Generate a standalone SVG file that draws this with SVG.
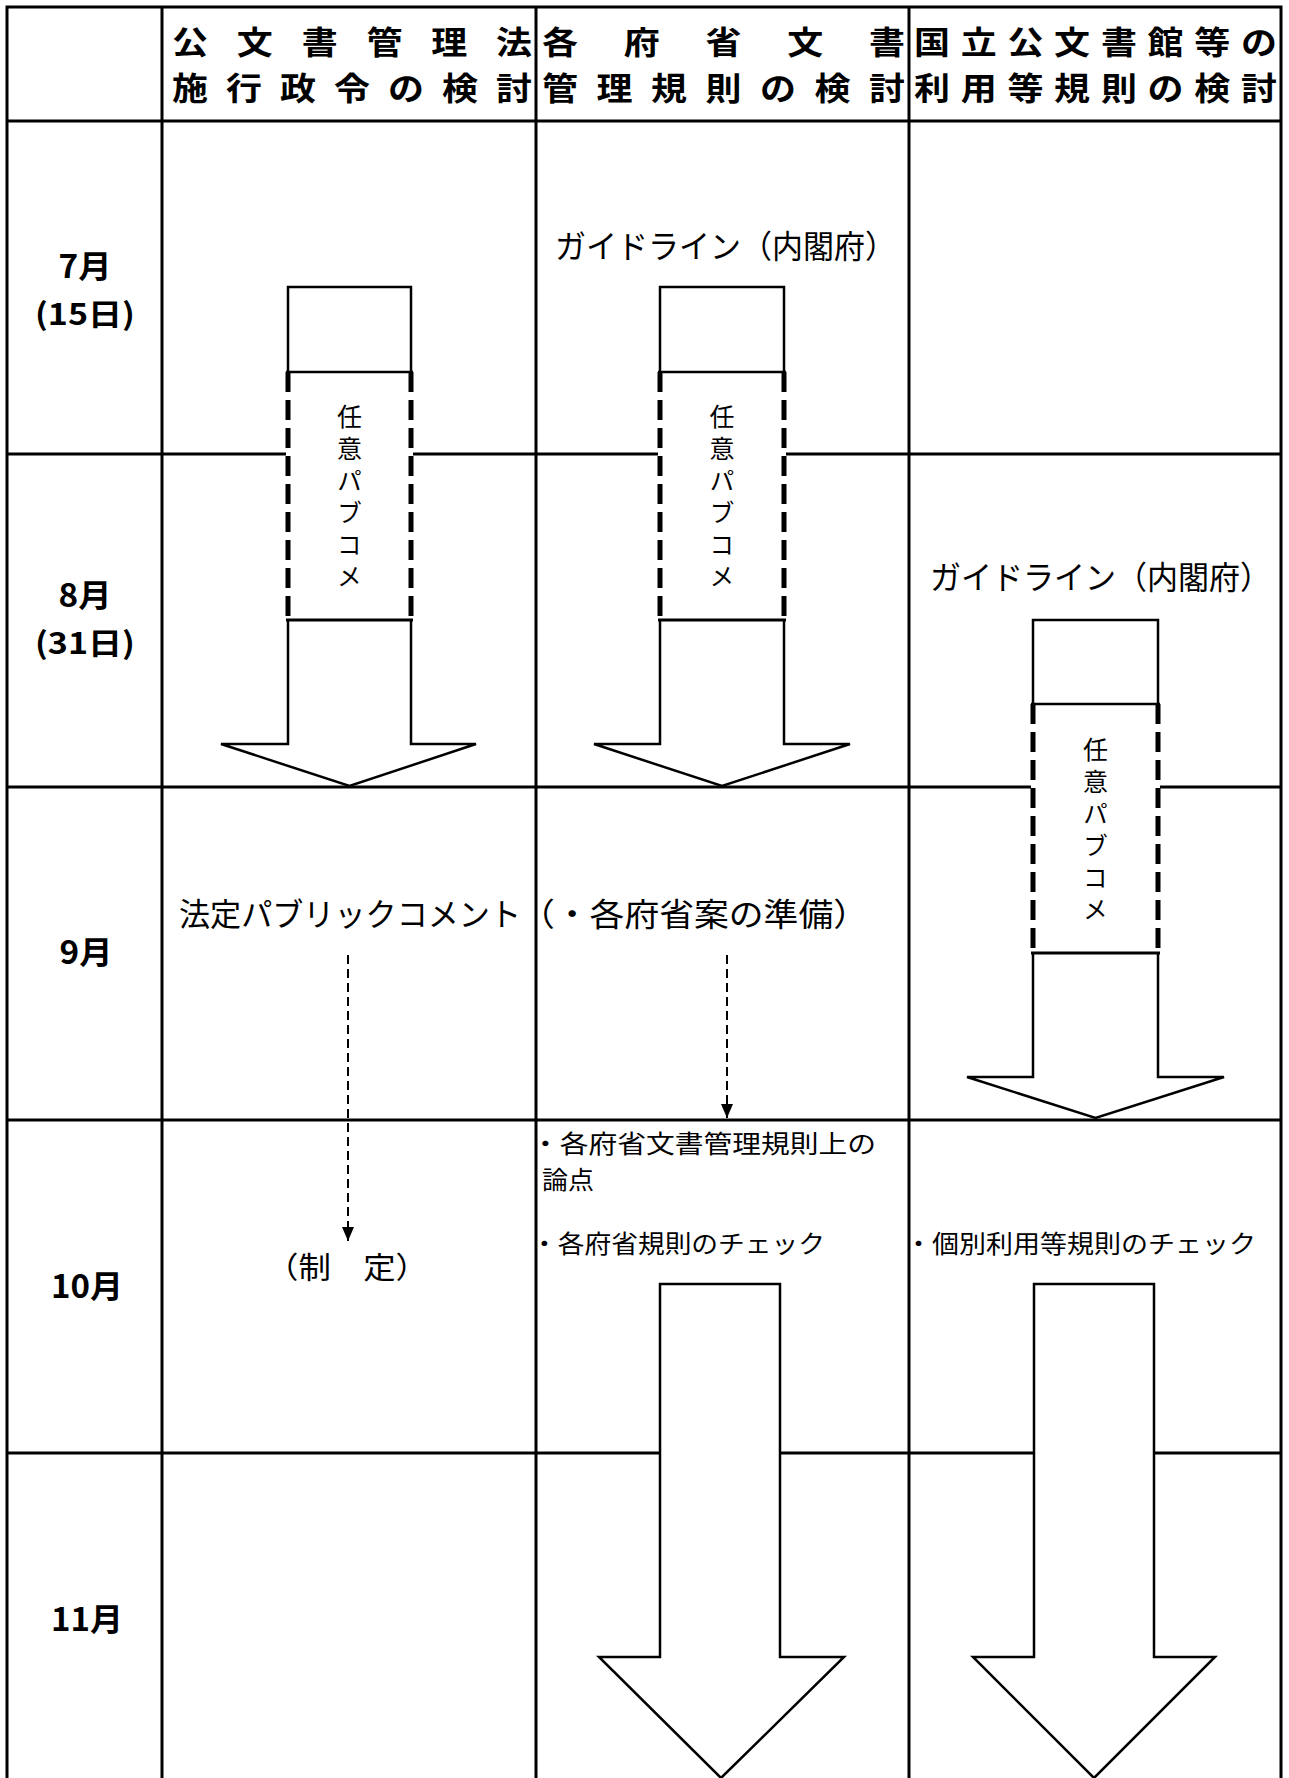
<svg xmlns="http://www.w3.org/2000/svg" width="1289" height="1778" viewBox="0 0 1289 1778">
<style>
.grid{stroke:#000;stroke-width:3;fill:none}
.hd{font-family:"Noto Sans CJK JP","Noto Sans",sans-serif;font-weight:bold;font-size:31.5px;fill:#000}
.mon{font-family:"Noto Sans CJK JP","Noto Sans",sans-serif;font-weight:bold;font-size:32px;fill:#000;text-anchor:middle}
.day{font-family:"Noto Sans CJK JP","Noto Sans",sans-serif;font-weight:bold;font-size:30px;fill:#000;text-anchor:middle}
.t32{font-family:"Noto Sans CJK JP","Noto Sans",sans-serif;font-size:32px;fill:#000}
.t24{font-family:"Noto Sans CJK JP","Noto Sans",sans-serif;font-size:24.5px;fill:#000}
.vt{font-family:"Noto Sans CJK JP","Noto Sans",sans-serif;font-size:25px;fill:#000;writing-mode:vertical-rl;letter-spacing:7px}
.arr{fill:#fff;stroke:#000;stroke-width:2.5;stroke-linejoin:miter}
.cover{fill:#fff;stroke:none}
.solid{stroke:#000;stroke-width:3}
.dash{stroke:#000;stroke-width:5;stroke-dasharray:20 8}
.conn{stroke:#000;stroke-width:2;stroke-dasharray:9 5;fill:none}
</style>
<defs>
<marker id="ah" viewBox="0 0 14 12" refX="14" refY="6" markerWidth="14" markerHeight="12" markerUnits="userSpaceOnUse" orient="auto">
<path d="M0,0 L14,6 L0,12 Z" fill="#000"/>
</marker>
</defs>
<rect width="1289" height="1778" fill="#fff"/>
<g id="grid" class="grid">
<rect x="7" y="7" width="1274" height="1790"/>
<line x1="162" y1="7" x2="162" y2="1778"/>
<line x1="536" y1="7" x2="536" y2="1778"/>
<line x1="909" y1="7" x2="909" y2="1778"/>
<line x1="7" y1="121" x2="1281" y2="121"/>
<line x1="7" y1="454" x2="1281" y2="454"/>
<line x1="7" y1="787" x2="1281" y2="787"/>
<line x1="7" y1="1120" x2="1281" y2="1120"/>
<line x1="7" y1="1453" x2="1281" y2="1453"/>
</g>
<g id="header-col1" transform="scale(1.143,1)">
<text class="hd"><tspan x="150.5 207.2 263.9 320.6 377.3 433.9" y="54">公文書管理法</tspan><tspan x="150.5 197.7 245 292.2 339.5 386.7 433.9" y="100">施行政令の検討</tspan></text>
</g>
<g id="header-col2" transform="scale(1.143,1)">
<text class="hd"><tspan x="474.2 545.7 617.2 688.8 760.3" y="54">各府省文書</tspan><tspan x="474.2 521.9 569.6 617.2 664.9 712.6 760.3" y="100">管理規則の検討</tspan></text>
</g>
<g id="header-col3" transform="scale(1.143,1)">
<text class="hd"><tspan x="799.7 840.5 881.4 922.2 963.2 1004 1044.9 1085.8" y="54">国立公文書館等の</tspan><tspan x="799.7 840.5 881.4 922.2 963.2 1004 1044.9 1085.8" y="100">利用等規則の検討</tspan></text>
</g>
<g id="month-7">
<text class="mon" x="85" y="278" textLength="53" lengthAdjust="spacingAndGlyphs">7月</text>
<text class="day" x="85" y="325" textLength="100" lengthAdjust="spacingAndGlyphs">(15日)</text>
</g>
<g id="month-8">
<text class="mon" x="85" y="607" textLength="53" lengthAdjust="spacingAndGlyphs">8月</text>
<text class="day" x="85" y="654" textLength="100" lengthAdjust="spacingAndGlyphs">(31日)</text>
</g>
<g id="month-9"><text class="mon" x="86" y="964" textLength="53" lengthAdjust="spacingAndGlyphs">9月</text></g>
<g id="month-10"><text class="mon" x="87" y="1298" textLength="72" lengthAdjust="spacingAndGlyphs">10月</text></g>
<g id="month-11"><text class="mon" x="87" y="1631" textLength="72" lengthAdjust="spacingAndGlyphs">11月</text></g>

<g id="arrow-col1">
<path class="arr" d="M288,287 H411 V744 H476 L349.5,786 L221,744 H288 Z"/>
<rect class="cover" x="286" y="372" width="127" height="248"/>
<line class="solid" x1="286" y1="372" x2="413" y2="372" style="stroke-width:2.5"/>
<line class="solid" x1="286" y1="620" x2="413" y2="620"/>
<line class="dash" x1="288" y1="372" x2="288" y2="622"/>
<line class="dash" x1="411" y1="372" x2="411" y2="622"/>
<text class="vt" x="349.5" y="403.5">任意パブコメ</text>
</g>
<g id="arrow-col2">
<path class="arr" d="M660,287 H784 V744 H850 L722,786 L594,744 H660 Z"/>
<rect class="cover" x="658" y="372" width="128" height="248"/>
<line class="solid" x1="658" y1="372" x2="786" y2="372" style="stroke-width:2.5"/>
<line class="solid" x1="658" y1="620" x2="786" y2="620"/>
<line class="dash" x1="660" y1="372" x2="660" y2="622"/>
<line class="dash" x1="784" y1="372" x2="784" y2="622"/>
<text class="vt" x="722" y="403.5">任意パブコメ</text>
</g>
<g id="arrow-col3">
<path class="arr" d="M1033,620 H1158 V1077 H1224 L1095.5,1118 L967,1077 H1033 Z"/>
<rect class="cover" x="1031" y="704" width="129" height="249"/>
<line class="solid" x1="1031" y1="704" x2="1160" y2="704" style="stroke-width:2.5"/>
<line class="solid" x1="1031" y1="953" x2="1160" y2="953"/>
<line class="dash" x1="1033" y1="704" x2="1033" y2="955"/>
<line class="dash" x1="1158" y1="704" x2="1158" y2="955"/>
<text class="vt" x="1095.5" y="736.5">任意パブコメ</text>
</g>
<g id="arrow-col2-big">
<path class="arr" d="M660,1284 H780 V1657 H844 L721,1778 L599,1657 H660 Z"/>
</g>
<g id="arrow-col3-big">
<path class="arr" d="M1034,1284 H1154 V1657 H1215 L1094,1778 L973,1657 H1034 Z"/>
</g>

<g id="guideline-col2"><text class="t32" x="555" y="258" textLength="341" lengthAdjust="spacingAndGlyphs">ガイドライン（内閣府）</text></g>
<g id="guideline-col3"><text class="t32" x="930" y="589" textLength="341" lengthAdjust="spacingAndGlyphs">ガイドライン（内閣府）</text></g>
<g id="legal-pubcom"><text class="t32" x="179" y="926" textLength="342" lengthAdjust="spacingAndGlyphs">法定パブリックコメント</text></g>
<g id="ministry-draft"><text class="t32" x="520" y="926" textLength="348" lengthAdjust="spacingAndGlyphs">（・各府省案の準備）</text></g>
<g id="enactment"><text class="t32" x="347" y="1278" text-anchor="middle" style="font-size:30px" textLength="162" lengthAdjust="spacingAndGlyphs">（制　定）</text></g>
<g id="issues-col2">
<text class="t24" x="531" y="1153" textLength="345" lengthAdjust="spacingAndGlyphs">・各府省文書管理規則上の</text>
<text class="t24" x="542" y="1189" textLength="52" lengthAdjust="spacingAndGlyphs">論点</text>
<text class="t24" x="531" y="1253" textLength="294" lengthAdjust="spacingAndGlyphs">・各府省規則のチェック</text>
</g>
<g id="check-col3"><text class="t24" x="905" y="1253" textLength="351" lengthAdjust="spacingAndGlyphs">・個別利用等規則のチェック</text></g>

<g id="connectors">
<line class="conn" x1="348" y1="955" x2="348" y2="1241" marker-end="url(#ah)"/>
<line class="conn" x1="727" y1="955" x2="727" y2="1118" marker-end="url(#ah)"/>
</g>
</svg>
